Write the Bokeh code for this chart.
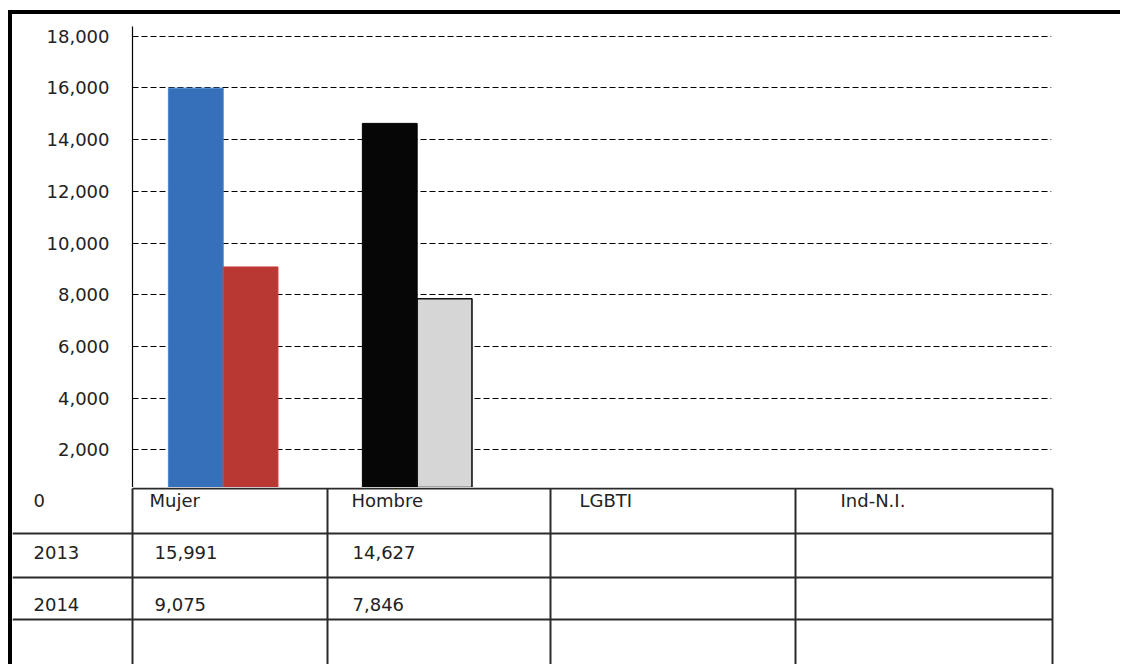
from bokeh.plotting import figure
from bokeh.models import Range1d, FixedTicker, NumeralTickFormatter, ColumnDataSource, Div
from bokeh.layouts import column, row
from bokeh.transform import dodge
from bokeh.core.properties import value
from bokeh.embed import file_html
from bokeh.resources import INLINE

# ---------------- data ----------------
categories = ["Mujer", "Hombre", "LGBTI", "Ind-N.I."]
years = ["2013", "2014"]
values_2013 = [15991, 14627, None, None]
values_2014 = [9075, 7846, None, None]
y_ticks = [0, 2000, 4000, 6000, 8000, 10000, 12000, 14000, 16000, 18000]

# ---------------- styles ----------------
FONT = "DejaVu Sans"
FSIZE = "18px"
TXT = "#222222"
fill_2013 = ["#3670BB", "#060606", "#3670BB", "#060606"]
fill_2014 = ["#B93833", "#D6D6D6", "#B93833", "#D6D6D6"]
line_2013 = ["#4A85CF", "#000000", "#4A85CF", "#000000"]
line_2014 = ["#C9453F", "#111111", "#C9453F", "#111111"]
lw_2014 = [1, 1.6, 1, 1.6]

W = 1108          # width of the chart + table block
H_CHART = 473
H_TABLE = 177
TOP = 14          # page y where the chart block starts
LEFT = 12         # page x where the chart block starts


def nan(v):
    return float("nan") if v is None else v


src = ColumnDataSource(dict(
    x=list(range(len(categories))),
    cat=categories,
    v13=[nan(v) for v in values_2013],
    v14=[nan(v) for v in values_2014],
    f13=fill_2013, f14=fill_2014,
    l13=line_2013, l14=line_2014, w14=lw_2014,
))

# ---------------- chart ----------------
p = figure(width=W, height=H_CHART, output_backend="svg", toolbar_location=None,
           x_range=Range1d(-0.4675, 4.27), y_range=Range1d(542, 18375),
           x_axis_location=None,
           min_border_left=120, min_border_right=69, min_border_top=12, min_border_bottom=0)
p.outline_line_color = None
p.background_fill_color = "white"
p.border_fill_color = "white"
p.xgrid.visible = False

ax = p.yaxis[0]
ax.ticker = FixedTicker(ticks=y_ticks)
ax.formatter = NumeralTickFormatter(format="0,0")
ax.major_tick_out = 0
ax.major_tick_in = 0
ax.minor_tick_out = 0
ax.minor_tick_in = 0
ax.axis_line_color = "black"
ax.axis_line_width = 1.2
ax.major_label_standoff = 23
ax.major_label_text_font = FONT
ax.major_label_text_font_size = FSIZE
ax.major_label_text_color = TXT

p.ygrid.grid_line_color = "black"
p.ygrid.grid_line_dash = "6 3"
p.ygrid.grid_line_width = 1

BW = 0.2825
p.vbar(x=dodge("x", -BW / 2, range=p.x_range), top="v13", bottom=0, width=BW,
       fill_color="f13", line_color="l13", line_width=1, source=src)
p.vbar(x=dodge("x", BW / 2, range=p.x_range), top="v14", bottom=0, width=BW,
       fill_color="f14", line_color="l14", line_width="w14", source=src)

# ---------------- data table ----------------
T0 = TOP + H_CHART
t = figure(width=W, height=H_TABLE, output_backend="svg", toolbar_location=None,
           x_range=Range1d(LEFT, LEFT + W), y_range=Range1d(T0 + H_TABLE, T0),
           x_axis_location=None, y_axis_location=None, min_border=0)
t.outline_line_color = None
t.xgrid.visible = False
t.ygrid.visible = False

for fig in (p, t):
    if "frame_align" in fig.properties():
        fig.frame_align = False

col_edges = [132, 327, 550, 795, 1052]
row_edges = [488, 533, 577, 619]
LC = "#2a2a2a"
# header top line (only over the category columns)
t.segment(x0=[col_edges[0]], y0=[row_edges[0]], x1=[col_edges[-1]], y1=[row_edges[0]],
          line_color=LC, line_width=2)
# row separators
t.segment(x0=[LEFT] * 3, y0=row_edges[1:], x1=[col_edges[-1]] * 3, y1=row_edges[1:],
          line_color=LC, line_width=2)
# column separators
t.segment(x0=col_edges, y0=[row_edges[0]] * len(col_edges), x1=col_edges,
          y1=[T0 + H_TABLE] * len(col_edges), line_color=LC, line_width=2)

header_x = [149, 351, 579, 840]
value_x = [154, 352, 579, 840]
row_y = [500, 552, 604]
first_x = 33

txt_kw = dict(text_font=value(FONT), text_font_size=value(FSIZE), text_color=TXT,
              text_baseline="middle", text_align="left")

# first column: axis zero and year labels
t.text(x=[first_x] * 3, y=row_y, text=[str(y_ticks[0])] + years, **txt_kw)
# category headers
t.text(x=header_x, y=[row_y[0]] * len(categories), text=categories, **txt_kw)
# values
cells_x, cells_y, cells_t = [], [], []
for ri, vals in enumerate([values_2013, values_2014]):
    for ci, v in enumerate(vals):
        if v is not None:
            cells_x.append(value_x[ci])
            cells_y.append(row_y[ri + 1])
            cells_t.append(f"{v:,}")
t.text(x=cells_x, y=cells_y, text=cells_t, **txt_kw)

# ---------------- frame (thick black border) ----------------
top_bar = Div(width=W + 4, height=4, margin=(10, 0, 0, 8),
              styles={"background-color": "black"})
left_bar = Div(width=4, height=H_CHART + H_TABLE, margin=(0, 0, 0, 8),
               styles={"background-color": "black"})

layout = column(top_bar, row(left_bar, column(p, t, spacing=0), spacing=0), spacing=0)

open("out.html", "w").write(file_html(layout, INLINE))
